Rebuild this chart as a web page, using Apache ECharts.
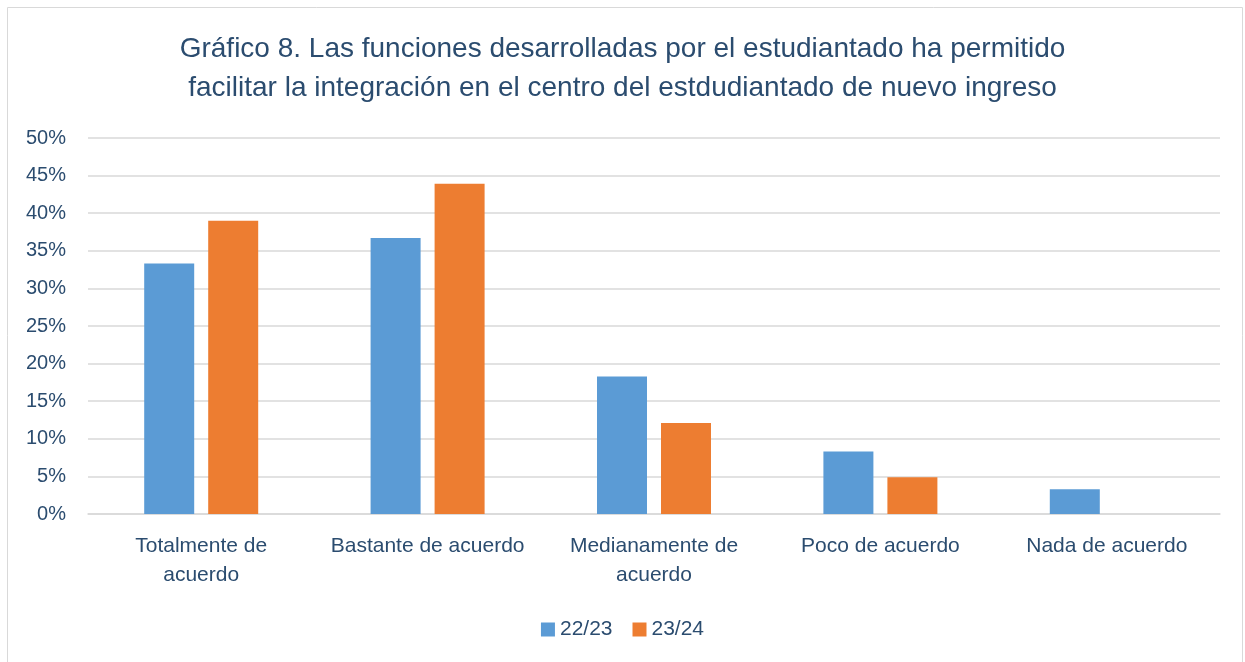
<!DOCTYPE html>
<html><head><meta charset="utf-8">
<script src="https://cdn.jsdelivr.net/npm/echarts@6/dist/echarts.min.js"></script>
<style>html,body{margin:0;padding:0;background:#fff}#c{width:1245px;height:662px}</style>
</head><body><div id="c"></div>
<script>
const categories = ["Totalmente de\nacuerdo", "Bastante de acuerdo", "Medianamente de\nacuerdo", "Poco de acuerdo", "Nada de acuerdo"];
const s2223 = [33.3, 36.7, 18.3, 8.3, 3.3];
const s2324 = [39.0, 43.9, 12.1, 4.9, 0];
const yTicks = [0, 5, 10, 15, 20, 25, 30, 35, 40, 45, 50];
const FONT = "'Liberation Sans', 'Noto Sans', sans-serif";
const TXT = '#2B4C6F';
const chart = echarts.init(document.getElementById('c'), null, {renderer: 'canvas'});
chart.setOption({
  animation: false,
  title: {
    text: 'Gráfico 8. Las funciones desarrolladas por el estudiantado ha permitido\nfacilitar la integración en el centro del estdudiantado de nuevo ingreso',
    left: 'center', top: 25,
    textStyle: {fontFamily: FONT, fontSize: 28, fontWeight: 'normal', color: TXT, lineHeight: 39}
  },
  graphic: [{type: 'rect', shape: {x: 7.5, y: 7.5, width: 1235, height: 660}, style: {fill: 'none', stroke: '#d9d9d9', lineWidth: 1}}],
  legend: {
    data: ['22/23', '23/24'], bottom: 17, left: 'center', itemWidth: 14, itemHeight: 14, itemGap: 20,
    icon: 'rect', textStyle: {fontFamily: FONT, fontSize: 21, color: TXT}
  },
  grid: {left: 88, right: 25, top: 138, bottom: 148, containLabel: false},
  xAxis: {
    type: 'category', data: categories,
    axisLine: {lineStyle: {color: '#d9d9d9', width: 1.5}}, axisTick: {show: false},
    axisLabel: {fontFamily: FONT, fontSize: 21, color: TXT, lineHeight: 29, margin: 18, interval: 0}
  },
  yAxis: {
    type: 'value', min: 0, max: 50, interval: 5,
    axisLine: {show: false}, axisTick: {show: false},
    splitLine: {lineStyle: {color: '#d9d9d9', width: 1.5}},
    axisLabel: {fontFamily: FONT, fontSize: 20, color: TXT, margin: 22, formatter: v => yTicks.includes(v) ? v + '%' : ''}
  },
  series: [
    {name: '22/23', type: 'bar', data: s2223, barWidth: 50, barGap: '28%', itemStyle: {color: '#5B9BD5'}},
    {name: '23/24', type: 'bar', data: s2324, barWidth: 50, itemStyle: {color: '#ED7D31'}}
  ]
});
</script></body></html>
